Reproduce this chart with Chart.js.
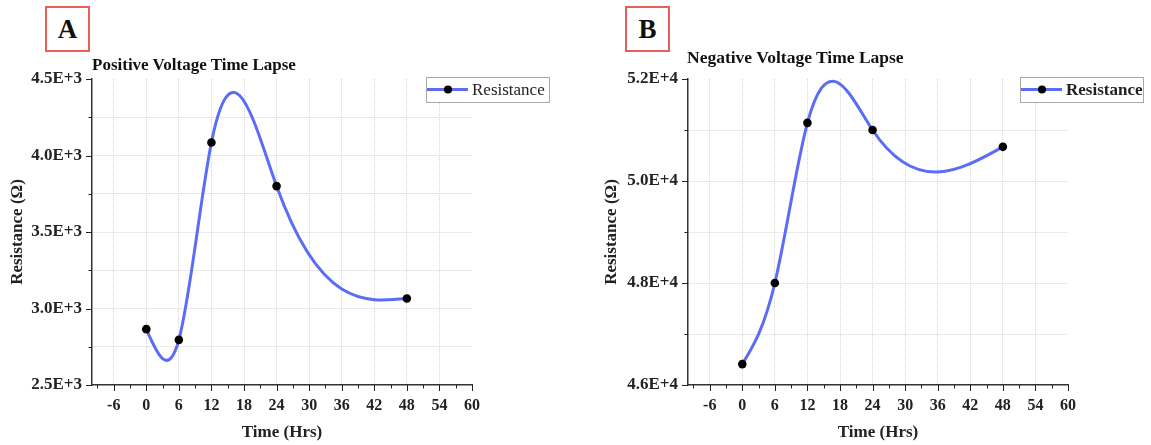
<!DOCTYPE html>
<html>
<head>
<meta charset="utf-8">
<script src="https://cdn.jsdelivr.net/npm/chart.js@4.4.0/dist/chart.umd.min.js"></script>
<style>
body{margin:0;background:#fff;width:1151px;height:445px;position:relative;overflow:hidden;font-family:"Liberation Serif","Times New Roman",serif;color:#111}
.panel{position:absolute;top:0;height:445px}
.tag{position:absolute;top:6px;width:45px;height:46px;border:2px solid #ea5f55;box-sizing:border-box;font-weight:bold;font-size:27px;text-align:center;line-height:42px;background:#fff}
.ttl{position:absolute;font-weight:bold;font-size:17px;white-space:nowrap;line-height:20px}
</style>
</head>
<body>
<div class="panel" style="left:0;width:575px"><canvas id="chartA" width="575" height="445"></canvas></div>
<div class="panel" style="left:575px;width:576px"><canvas id="chartB" width="576" height="445"></canvas></div>
<div class="tag" style="left:45px">A</div>
<div class="tag" style="left:625px">B</div>
<div class="ttl" style="left:92px;top:55px">Positive Voltage Time Lapse</div>
<div class="ttl" style="left:687px;top:47px;font-size:17.5px">Negative Voltage Time Lapse</div>
<script>
// data
const hours = [0, 6, 12, 24, 48];
const resistancePositive = [2865, 2795, 4085, 3800, 3065];
const resistanceNegative = [46410, 48000, 51140, 51000, 50670];
const timeTicks = [-9, -6, -3, 0, 3, 6, 9, 12, 15, 18, 21, 24, 27, 30, 33, 36, 39, 42, 45, 48, 51, 54, 57, 60];
const positiveTicks = [2500, 2750, 3000, 3250, 3500, 3750, 4000, 4250, 4500];
const negativeTicks = [46000, 47000, 48000, 49000, 50000, 51000, 52000];
const seriesName = 'Resistance';

const serif = '"Liberation Serif", "Times New Roman", serif';
const lineBlue = '#5b6cf6';
const gridGray = '#d5d5d5';

// origin-style natural cubic spline: replace chart.js control points
const naturalSpline = {
  id: 'naturalSpline',
  beforeDatasetsDraw(chart) {
    const meta = chart.getDatasetMeta(0);
    const line = meta.dataset;
    line.updateControlPoints(chart.chartArea, 'x');
    const pts = meta.data;
    const n = pts.length;
    const h = [], d = [];
    for (let i = 0; i < n - 1; i++) {
      h.push(pts[i + 1].x - pts[i].x);
      d.push((pts[i + 1].y - pts[i].y) / h[i]);
    }
    const a = [], b = [], c = [], r = [];
    for (let i = 1; i < n - 1; i++) {
      a.push(h[i - 1]); b.push(2 * (h[i - 1] + h[i])); c.push(h[i]); r.push(6 * (d[i] - d[i - 1]));
    }
    const m = b.length;
    for (let i = 1; i < m; i++) {
      const w = a[i] / b[i - 1];
      b[i] -= w * c[i - 1];
      r[i] -= w * r[i - 1];
    }
    const M = new Array(n).fill(0);
    const sol = new Array(m);
    sol[m - 1] = r[m - 1] / b[m - 1];
    for (let i = m - 2; i >= 0; i--) sol[i] = (r[i] - c[i] * sol[i + 1]) / b[i];
    for (let i = 0; i < m; i++) M[i + 1] = sol[i];
    const slope = [];
    for (let i = 0; i < n - 1; i++) slope.push(d[i] - h[i] * (2 * M[i] + M[i + 1]) / 6);
    slope.push(d[n - 2] + h[n - 2] * (M[n - 2] + 2 * M[n - 1]) / 6);
    for (let i = 0; i < n - 1; i++) {
      const p = pts[i], q = pts[i + 1], k = h[i] / 3;
      p.cp2x = p.x + k; p.cp2y = p.y + slope[i] * k;
      q.cp1x = q.x - k; q.cp1y = q.y - slope[i + 1] * k;
    }
    line._path = undefined;
  }
};

// outward major / minor tick marks
const axisTicks = {
  id: 'axisTicks',
  afterDraw(chart) {
    const ctx = chart.ctx, area = chart.chartArea;
    const sx = chart.scales.x, sy = chart.scales.y;
    ctx.save();
    ctx.strokeStyle = '#222';
    ctx.lineWidth = 1;
    sx.ticks.forEach(t => {
      const px = Math.round(sx.getPixelForValue(t.value)) + 0.5;
      const len = t.label !== '' ? 6 : 3.5;
      ctx.beginPath(); ctx.moveTo(px, area.bottom); ctx.lineTo(px, area.bottom + len); ctx.stroke();
    });
    sy.ticks.forEach(t => {
      const py = Math.round(sy.getPixelForValue(t.value)) + 0.5;
      const len = t.label !== '' ? 6 : 3.5;
      ctx.beginPath(); ctx.moveTo(area.left, py); ctx.lineTo(area.left - len, py); ctx.stroke();
    });
    ctx.restore();
  }
};

// boxed legend with line + dot sample
const boxLegend = {
  id: 'boxLegend',
  afterDraw(chart, args, opts) {
    const ctx = chart.ctx, area = chart.chartArea;
    const ds = chart.data.datasets[0];
    const left = area.right + opts.dx, top = area.top - 2, w = 123, hgt = 25;
    const cy = top + hgt / 2;
    ctx.save();
    ctx.fillStyle = '#fff';
    ctx.fillRect(left, top, w, hgt);
    ctx.strokeStyle = '#a8a8a8';
    ctx.lineWidth = 1;
    ctx.strokeRect(left + 0.5, top + 0.5, w, hgt);
    ctx.strokeStyle = ds.borderColor;
    ctx.lineWidth = ds.borderWidth;
    ctx.beginPath(); ctx.moveTo(left + 1, cy); ctx.lineTo(left + 42, cy); ctx.stroke();
    ctx.fillStyle = ds.pointBackgroundColor;
    ctx.beginPath(); ctx.arc(left + 22, cy, 4, 0, Math.PI * 2); ctx.fill();
    ctx.fillStyle = '#222';
    ctx.font = (opts.bold ? 'bold ' : '') + '17px ' + serif;
    ctx.textBaseline = 'middle';
    ctx.fillText(ds.label, left + 46, cy + 1);
    ctx.restore();
  }
};

function makeChart(id, values, yTicks, yMin, yMax, majorStep, fmt, yWidth, padRight, titlePad, legendBold, legendDx) {
  return new Chart(document.getElementById(id), {
    type: 'line',
    data: {
      labels: hours,
      datasets: [{
        label: seriesName,
        data: hours.map((h, i) => ({x: h, y: values[i]})),
        borderColor: lineBlue,
        borderWidth: 3,
        tension: 0.4,
        pointRadius: 4.3,
        pointBackgroundColor: '#000',
        pointBorderColor: '#000',
        pointBorderWidth: 0,
        fill: false
      }]
    },
    options: {
      responsive: false,
      animation: false,
      layout: {padding: {top: 79, right: padRight, left: 0, bottom: 0}},
      elements: {line: {capBezierPoints: false}},
      plugins: {
        legend: {display: false},
        tooltip: {enabled: false},
        boxLegend: {bold: legendBold, dx: legendDx}
      },
      scales: {
        x: {
          type: 'linear',
          min: -10,
          max: 60,
          afterBuildTicks: s => { s.ticks = timeTicks.map(v => ({value: v})); },
          afterFit: s => { s.height = 60; },
          grid: {
            drawTicks: false,
            lineWidth: 1,
            color: c => (c.tick && c.tick.value % 6 === 0 && c.tick.value < 60) ? gridGray : 'rgba(0,0,0,0)'
          },
          border: {color: '#333', width: 1.5, dash: [1, 1]},
          ticks: {
            autoSkip: false,
            maxRotation: 0,
            padding: 11,
            color: '#222',
            font: {family: serif, size: 16, weight: 'bold'},
            callback: v => (v % 6 === 0 ? String(v) : '')
          },
          title: {
            display: true,
            text: 'Time (Hrs)',
            color: '#222',
            font: {family: serif, size: 17, weight: 'bold'},
            padding: {top: 0, bottom: 2}
          }
        },
        y: {
          min: yMin,
          max: yMax,
          afterBuildTicks: s => { s.ticks = yTicks.map(v => ({value: v})); },
          afterFit: s => { s.width = yWidth; },
          grid: {
            drawTicks: false,
            lineWidth: 1,
            color: c => (c.tick && c.tick.value > yMin && c.tick.value < yMax) ? gridGray : 'rgba(0,0,0,0)'
          },
          border: {color: '#333', width: 1.5, dash: [1, 1]},
          ticks: {
            padding: 10,
            color: '#222',
            font: {family: serif, size: 17, weight: 'bold'},
            callback: v => (v % majorStep === 0 ? fmt(v) : '')
          },
          title: {
            display: true,
            text: 'Resistance (Ω)',
            color: '#222',
            font: {family: serif, size: 17, weight: 'bold'},
            padding: {top: titlePad, bottom: 0}
          }
        }
      }
    },
    plugins: [naturalSpline, axisTicks, boxLegend]
  });
}

makeChart('chartA', resistancePositive, positiveTicks, 2500, 4500, 500,
  v => (v / 1000).toFixed(1) + 'E+3', 92, 103, 7, false, -46);
makeChart('chartB', resistanceNegative, negativeTicks, 46000, 52000, 2000,
  v => (v / 10000).toFixed(1) + 'E+4', 113, 83, 26, true, -48);
</script>
</body>
</html>
